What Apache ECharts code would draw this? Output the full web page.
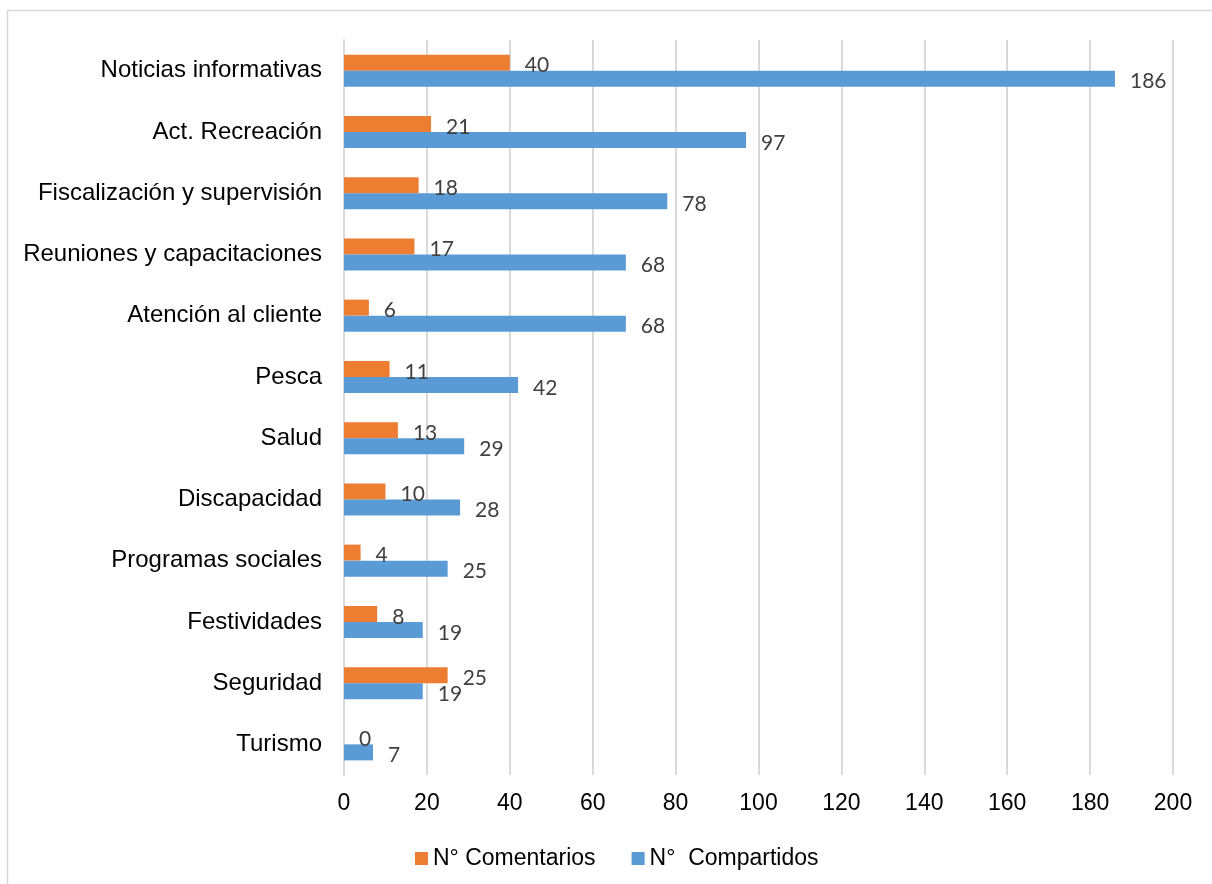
<!DOCTYPE html>
<html><head><meta charset="utf-8">
<script src="https://cdn.jsdelivr.net/npm/echarts@6/dist/echarts.min.js"></script>
<style>html,body{margin:0;padding:0;background:#fff}#c{width:1212px;height:884px}</style>
</head><body><div id="c"></div>
<script>
const categories = ["Noticias informativas","Act. Recreación","Fiscalización y supervisión","Reuniones y capacitaciones","Atención al cliente","Pesca","Salud","Discapacidad","Programas sociales","Festividades","Seguridad","Turismo"];
const comentarios = [40,21,18,17,6,11,13,10,4,8,25,0];
const compartidos = [186,97,78,68,68,42,29,28,25,19,19,7];
const seriesNames = ["N° Comentarios","N°  Compartidos"];
const xTicks = {min:0,max:200,interval:20};

const chart = echarts.init(document.getElementById('c'));
const lbl = {show:true,position:'right',distance:15,offset:[0,3],color:'#404040',fontFamily:'Lato',fontSize:21};
chart.setOption({
  animation:false,
  graphic:[{type:'rect',shape:{x:7.5,y:10.5,width:1220,height:900},style:{fill:'none',stroke:'#d9d9d9',lineWidth:1.5}}],
  grid:{left:344,right:39,top:40,bottom:109,containLabel:false},
  legend:{top:842,left:410,itemWidth:13,itemHeight:13,itemGap:36,icon:'rect',
    textStyle:{fontFamily:'Liberation Sans',fontSize:23,color:'#000'},data:seriesNames},
  xAxis:{type:'value',min:xTicks.min,max:xTicks.max,interval:xTicks.interval,
    axisLine:{show:false},axisTick:{show:false},
    splitLine:{lineStyle:{color:'#d9d9d9',width:2}},
    axisLabel:{fontFamily:'Liberation Sans',fontSize:23,color:'#000',margin:17}},
  yAxis:{type:'category',inverse:true,data:categories,
    axisLine:{show:true,lineStyle:{color:'#d9d9d9',width:2}},axisTick:{show:false},
    axisLabel:{fontFamily:'Liberation Sans',fontSize:24,color:'#000',margin:22}},
  series:[
    {name:seriesNames[0],type:'bar',data:comentarios,barWidth:16,barGap:'0%',itemStyle:{color:'#ED7D31'},label:lbl},
    {name:seriesNames[1],type:'bar',data:compartidos,barWidth:16,barGap:'0%',itemStyle:{color:'#5B9BD5'},label:lbl}
  ]
});
</script></body></html>
